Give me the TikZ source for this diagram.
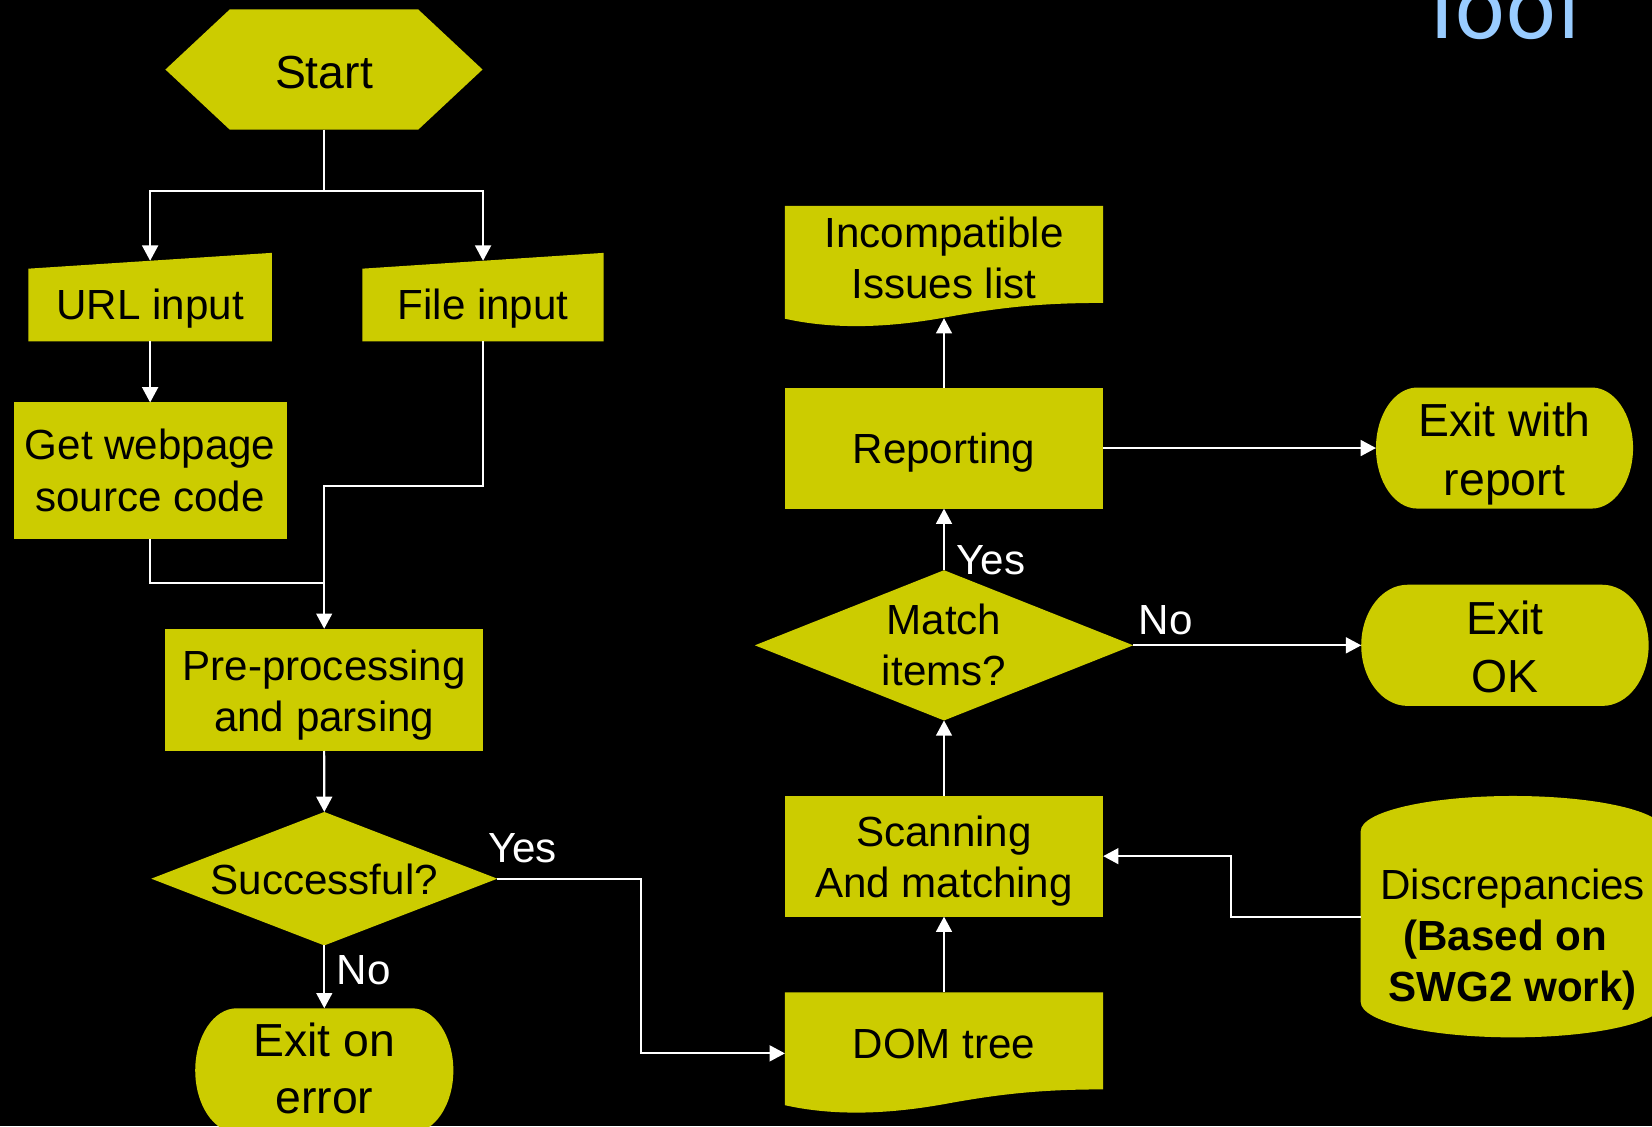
\documentclass[tikz,border=0pt]{standalone}
\usepackage{fontspec}
\setmainfont{Liberation Sans}
\newfontfamily\titlefont{DejaVu Sans}
\usetikzlibrary{arrows.meta,backgrounds}
\definecolor{ylw}{RGB}{204,204,0}
\definecolor{ttl}{RGB}{153,204,255}
% text lines: raised by #1, first baseline at node centre
\newcommand{\txtlines}[2]{\raisebox{#1}[0pt][0pt]{\begin{tabular}[t]{@{}c@{}}#2\end{tabular}}}
% terminator: x1,y1,x2,y2,rx
\newcommand{\termfill}[5]{\fill[ylw] ({#1+#5},#2) -- ({#3-#5},#2)
  .. controls ({#3-0.4477*#5},#2) and (#3,{(#2+#4)/2-0.5523*(#4-#2)/2}) .. (#3,{(#2+#4)/2})
  .. controls (#3,{(#2+#4)/2+0.5523*(#4-#2)/2}) and ({#3-0.4477*#5},#4) .. ({#3-#5},#4)
  -- ({#1+#5},#4)
  .. controls ({#1+0.4477*#5},#4) and (#1,{(#2+#4)/2+0.5523*(#4-#2)/2}) .. (#1,{(#2+#4)/2})
  .. controls (#1,{(#2+#4)/2-0.5523*(#4-#2)/2}) and ({#1+0.4477*#5},#2) .. cycle;}
% document shape with top at #1
\newcommand{\docfill}[1]{\fill[ylw] (745,#1) -- (1047,#1) -- (1047,{#1+92})
  .. controls (990,{#1+92}) and (950,{#1+96}) .. (896,{#1+106})
  .. controls (840,{#1+116}) and (790,{#1+117}) .. (745,{#1+107}) -- cycle;}
\begin{document}
\begin{tikzpicture}[x=1pt,y=-1pt,
  shp/.style={inner sep=0pt, outer sep=0pt, text=black},
  txtA/.style={font=\fontsize{40}{48.5}\selectfont},
  txtB/.style={font=\fontsize{44}{55}\selectfont},
  rbox/.style={shp, fill=ylw},
  ln/.style={draw=white, line width=2pt},
  arr/.style={draw=white, line width=2pt, -{Triangle[length=14.5pt,width=15pt]}},
  lbl/.style={text=white, inner sep=0pt, anchor=base west, font=\fontsize{40}{48}\selectfont}]
\useasboundingbox (0,0) rectangle (1568,1068.8);

% ---------- nodes ----------
\node[shp, minimum width=301pt, minimum height=114pt, txtB] (start) at (307.5,66) {\txtlines{-17.8pt}{Start}};
\node[shp, minimum width=231pt, minimum height=76.5pt, txtA] (url) at (142.5,285.75) {\txtlines{-17.95pt}{URL input}};
\node[shp, minimum width=229pt, minimum height=76.5pt, txtA] (file) at (458.5,285.75) {\txtlines{-17.95pt}{File input}};
\node[rbox, minimum width=259pt, minimum height=130pt, txtA] (getweb) at (142.5,447) {\txtlines{10.4pt}{Get webpage\\source code}};
\node[rbox, minimum width=301.4pt, minimum height=116pt, txtA] (prep) at (307.7,654.8) {\txtlines{8.9pt}{Pre-processing\\and parsing}};
\node[shp, minimum width=328.4pt, minimum height=126.7pt, txtA] (succ) at (307.8,834) {\txtlines{-15pt}{Successful?}};
\node[shp, minimum width=245pt, minimum height=118pt, font=\fontsize{44}{54}\selectfont] (exiterr) at (307.8,1016) {\txtlines{13pt}{Exit on\\error}};
\node[shp, minimum width=302pt, minimum height=115.6pt, txtA] (dom) at (896,999.8) {\txtlines{-4.7pt}{DOM tree}};
\node[rbox, minimum width=302.2pt, minimum height=114.8pt, txtA] (scan) at (896,812.6) {\txtlines{9pt}{Scanning\\And matching}};
\node[shp, minimum width=288.5pt, minimum height=229pt, txtA] (disc) at (1435.75,870) {\txtlines{16pt}{Discrepancies\\\textbf{(Based on}\hspace*{0.35em}\\\textbf{SWG2 work)}}};
\node[shp, minimum width=359pt, minimum height=142.6pt, txtA] (match) at (896,612.5) {\txtlines{10.1pt}{Match\\items?}};
\node[shp, minimum width=272.8pt, minimum height=115pt, txtB] (exitok) at (1428.4,612.5) {\txtlines{10.5pt}{Exit\\OK}};
\node[rbox, minimum width=302.5pt, minimum height=114.9pt, txtA] (report) at (896,425.25) {\txtlines{-14.45pt}{Reporting}};
\node[shp, minimum width=244pt, minimum height=114.9pt, font=\fontsize{44}{56}\selectfont] (exitrep) at (1428,425.25) {\txtlines{11.25pt}{Exit with\\report}};
\node[shp, minimum width=302pt, minimum height=106.5pt, font=\fontsize{40}{49}\selectfont] (incompat) at (896,248.75) {\txtlines{14.15pt}{Incompatible\\Issues list}};
\node[inner sep=0pt, anchor=base west, text=ttl, font=\fontsize{80}{90}\titlefont] (title) at (1344.5,37) {Tool};

% ---------- labels ----------
\node[lbl] (yes1) at (463,819) {Yes};
\node[lbl] (no1) at (319.5,934) {No};
\node[lbl] (yes2) at (907.5,545) {Yes};
\node[lbl] (no2) at (1080.6,602) {No};

% ---------- shapes (behind) ----------
\begin{scope}[on background layer]
  \fill[black] (0,0) rectangle (1568,1068.8);
  \fill[ylw] (start.west) -- (218,9) -- (397,9) -- (start.east) -- (397,123) -- (218,123) -- cycle;
  \fill[ylw] (27,255) -- (258,240) -- (258,324) -- (27,324) -- cycle;
  \fill[ylw] (344,255) -- (573,240) -- (573,324) -- (344,324) -- cycle;
  \fill[ylw] (succ.west) -- (succ.north) -- (succ.east) -- (succ.south) -- cycle;
  \fill[ylw] (match.west) -- (match.north) -- (match.east) -- (match.south) -- cycle;
  \termfill{185.3}{957}{430.3}{1075}{39.4}
  \termfill{1292}{555}{1564.8}{670}{44}
  \termfill{1306}{367.8}{1550}{482.7}{39.3}
  \docfill{195.5}
  \docfill{942}
  \fill[ylw] (1291.5,789) .. controls (1291.5,770.2) and (1356.5,755.5) .. (1436,755.5)
     .. controls (1515.5,755.5) and (1580,770.2) .. (1580,789) -- (1580,951)
     .. controls (1580,969.8) and (1515.5,984.6) .. (1436,984.6)
     .. controls (1356.5,984.6) and (1291.5,969.8) .. (1291.5,951) -- cycle;
\end{scope}

% ---------- connectors ----------
\coordinate (split) at (307.5,181);
\coordinate (j1) at (307.7,461);
\coordinate (j2) at (307.7,553.5);
\coordinate (yb) at (608.5,834);
\coordinate (dj) at (1168,812.6);
\draw[ln] (start.south) -- (split);
\draw[arr] (split) -| (url.north);
\draw[arr] (split) -| (file.north);
\draw[arr] (url.south) -- (getweb.north);
\draw[arr] (file.south) |- (j1) -- (prep.north);
\draw[ln] (getweb.south) |- (j2);
\draw[arr] (prep.south) -- (succ.north);
\draw[arr] (succ.east) -- (yb) |- (dom.west);
\draw[arr] (succ.south) -- (exiterr.north);
\draw[arr] (dom.north) -- (scan.south);
\draw[arr] (disc.west) -| (dj) -- (scan.east);
\draw[arr] (scan.north) -- (match.south);
\draw[arr] (match.north) -- (report.south);
\draw[arr] (match.east) -- (exitok.west);
\draw[arr] (report.east) -- (exitrep.west);
\draw[arr] (report.north) -- (incompat.south);
\end{tikzpicture}
\end{document}
